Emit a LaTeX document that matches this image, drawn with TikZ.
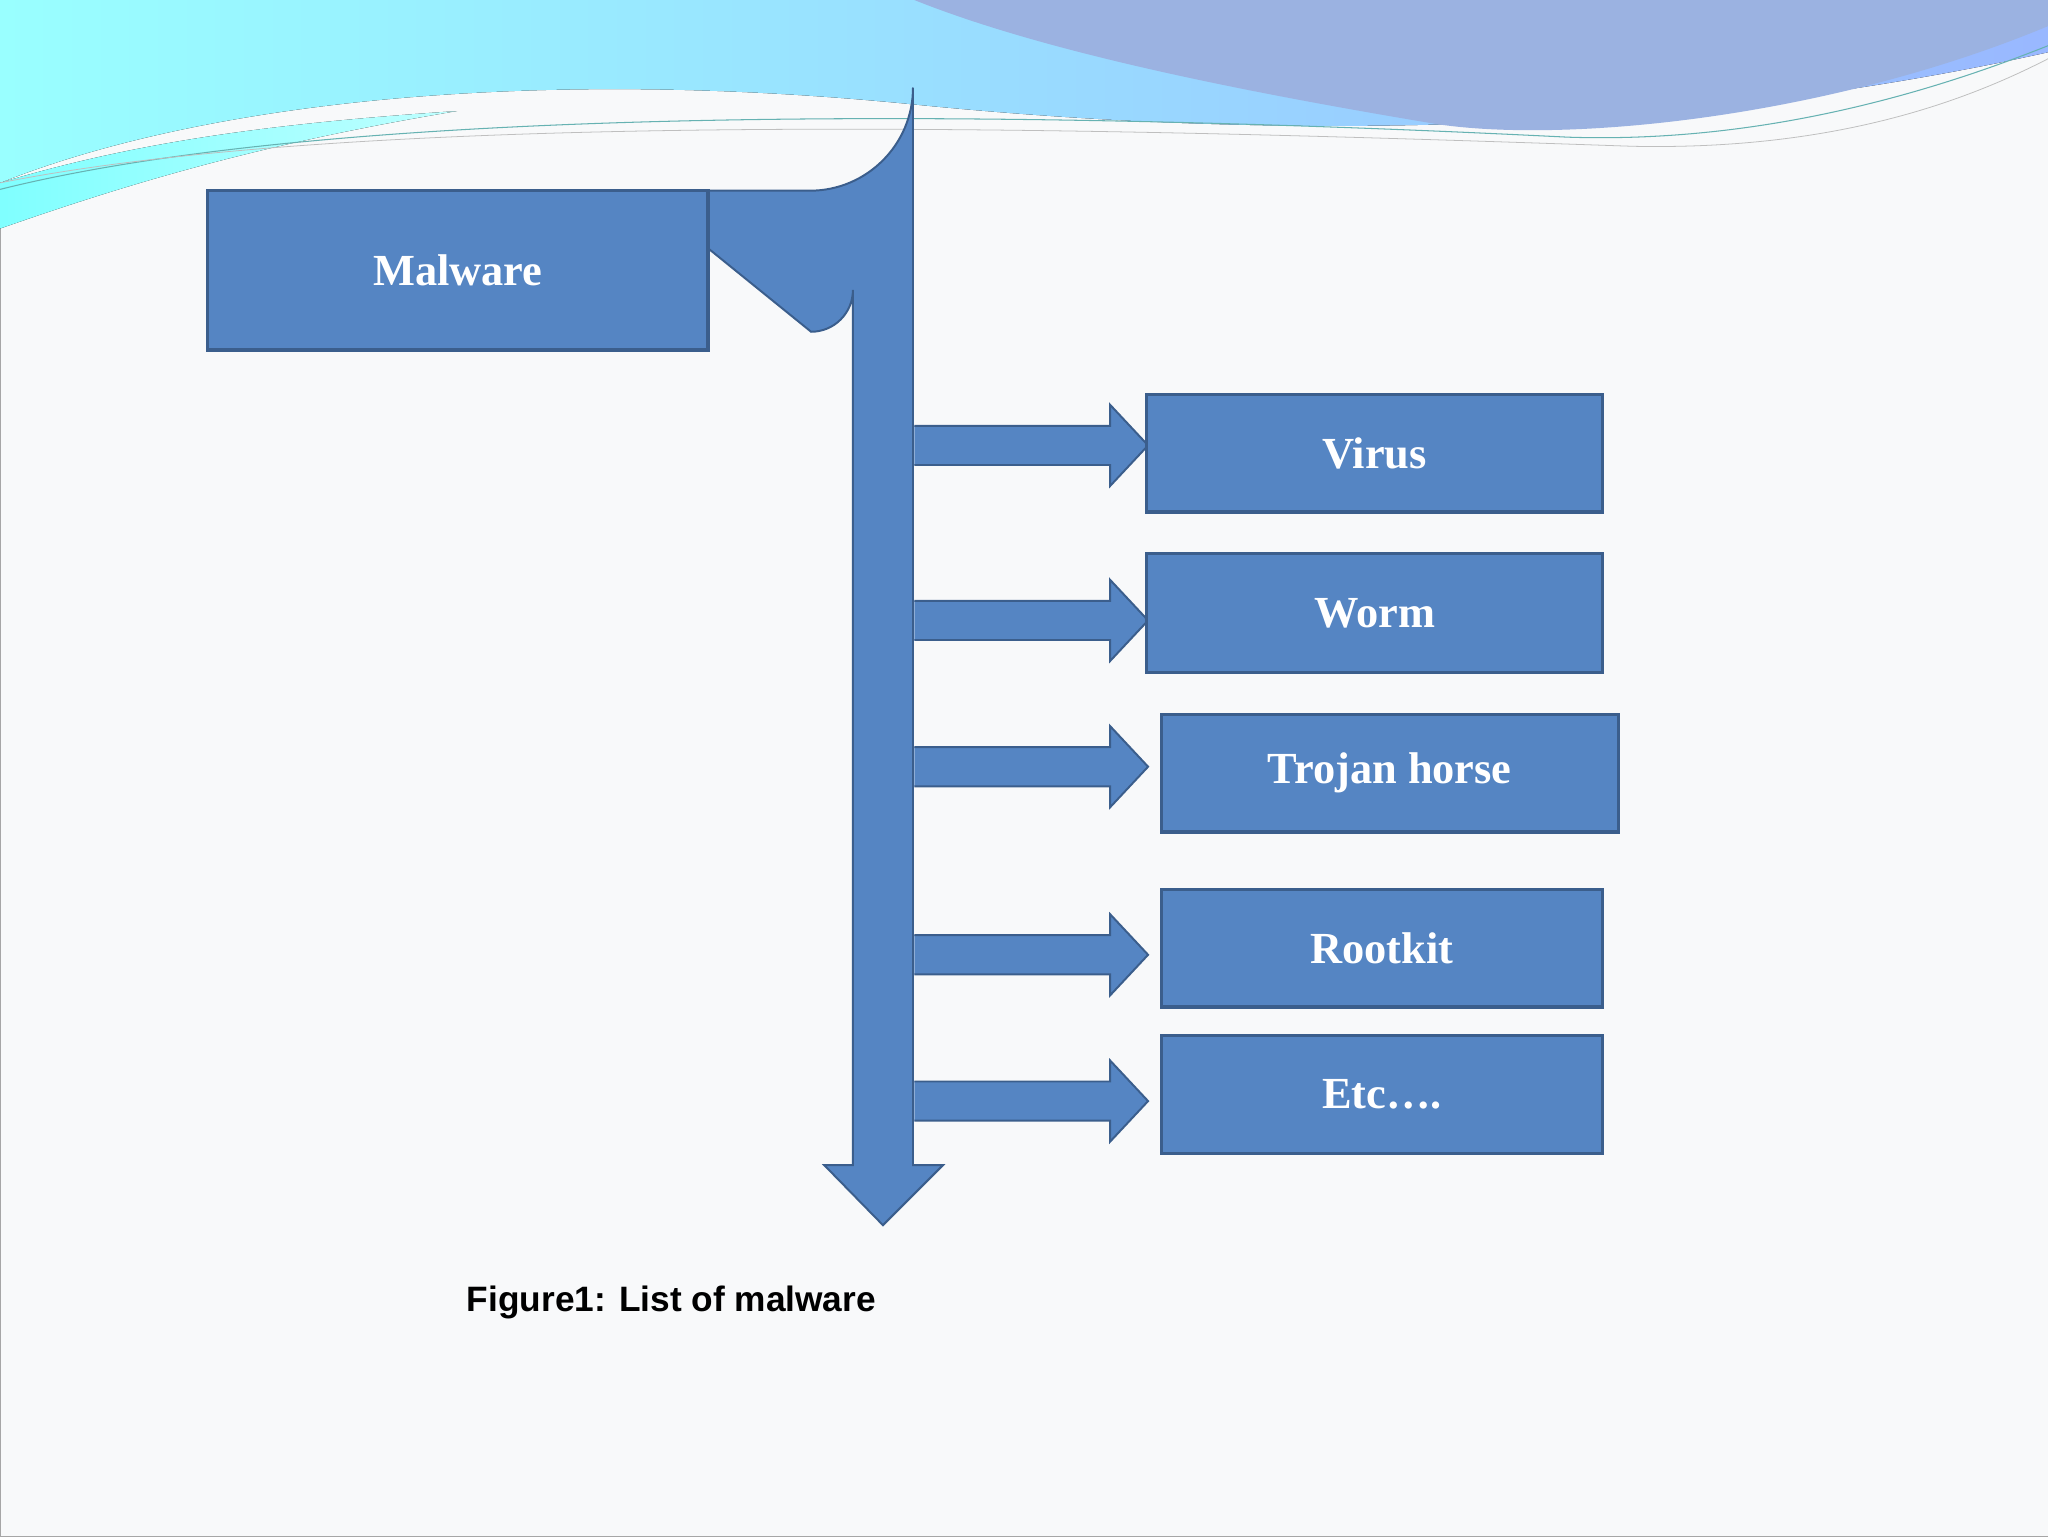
\documentclass[tikz,border=0pt]{standalone}
\usepackage{fontspec}
\setmainfont{Liberation Serif}
\newfontfamily\capfont{Liberation Sans}
\begin{document}
\begin{tikzpicture}[x=1pt,y=-1pt,
  blk/.style={fill=boxblue,draw=edgeblue,line width=2.5pt},
  lbl/.style={text=white,font=\fontsize{34}{40}\selectfont\bfseries},
  arr/.style={fill=boxblue,draw=edgeblue,line width=1.5pt,line join=miter}]
\definecolor{boxblue}{HTML}{5585C3}
\definecolor{edgeblue}{HTML}{3B5E8C}
\definecolor{bg}{HTML}{F8F9FA}
\useasboundingbox (0,0) rectangle (1568,1176);
\fill[bg,draw=gray!70] (0,0) rectangle (1568,1176);
% header waves
\fill[left color=cyan!40,right color=cyan!30!blue!40] (0,0) -- (1568,0) -- (1568,40) .. controls (1300,100) and (1000,110) .. (700,80) .. controls (400,50) and (150,80) .. (0,140) -- cycle;
\fill[cyan!45!blue!40] (700,0) -- (1568,0) -- (1568,20) .. controls (1400,90) and (1200,110) .. (1100,95) .. controls (950,70) and (800,40) .. (700,0) -- cycle;
\fill[left color=cyan!50,right color=cyan!25] (0,140) .. controls (100,110) and (200,95) .. (350,85) .. controls (200,110) and (100,140) .. (0,175) -- cycle;
\draw[teal!60,line width=0.8pt] (0,145) .. controls (300,70) and (900,90) .. (1200,105) .. controls (1350,110) and (1480,70) .. (1568,35);
\draw[gray!50,line width=0.6pt] (0,140) .. controls (300,80) and (900,100) .. (1250,112) .. controls (1400,115) and (1500,80) .. (1568,45);
% big bent arrow
\draw[arr] (542,146) -- (620,146) arc[start angle=90,end angle=0,radius=79] -- (699,892) -- (722,892) -- (676,938) -- (631,892) -- (653,892) -- (653,222) arc[start angle=0,end angle=90,radius=32] -- (542,190) -- cycle;
\node[blk,lbl,minimum width=383pt,minimum height=122pt] (m) at (350.5,207) {Malware};
% branch arrows
\foreach \y in {341,475,587,731,843}{
  \draw[arr] (700,\y-15) -- (850,\y-15) -- (850,\y-31) -- (879,\y) -- (850,\y+31) -- (850,\y+15) -- (700,\y+15);
}
\node[blk,lbl,minimum width=349pt,minimum height=90pt] (v) at (1052.5,347) {Virus};
\node[blk,lbl,minimum width=349pt,minimum height=91pt] (w) at (1052.5,469.5) {Worm};
\node[blk,lbl,minimum width=350pt,minimum height=90pt] (t) at (1064,592) {Trojan horse};
\node[blk,lbl,minimum width=338pt,minimum height=90pt] (r) at (1058,726) {Rootkit};
\node[blk,lbl,minimum width=338pt,minimum height=90pt] (e) at (1058,838) {Etc….};
\node[font=\capfont\fontsize{27}{32}\selectfont\bfseries] (c) at (514,997) {Figure1: List of malware};
\end{tikzpicture}
\end{document}
